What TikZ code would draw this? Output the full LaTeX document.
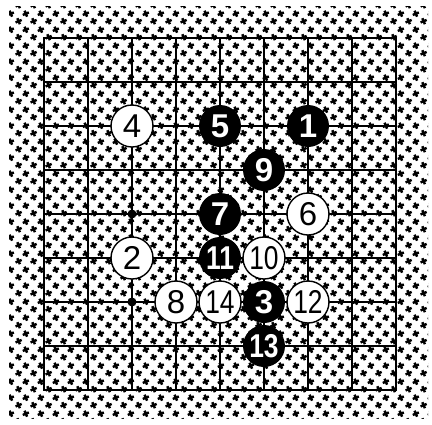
\documentclass[tikz,border=0pt]{standalone}
\usepackage{fontspec}
\usetikzlibrary{patterns}
\newfontfamily\stonefont{Liberation Sans}
\newfontfamily\stonefontc[FakeStretch=0.8]{Liberation Sans}
\pgfdeclarepatternformonly{gostars}{\pgfqpoint{0pt}{0pt}}{\pgfqpoint{14.67pt}{15.5pt}}{\pgfqpoint{14.67pt}{15.5pt}}{%
  \pgfsetlinewidth{2.5pt}%
  \pgfpathmoveto{\pgfqpoint{0.6pt}{2.6pt}}\pgfpathlineto{\pgfqpoint{6.8pt}{5.2pt}}%
  \pgfpathmoveto{\pgfqpoint{5.0pt}{0.8pt}}\pgfpathlineto{\pgfqpoint{2.4pt}{7.0pt}}%
  \pgfpathmoveto{\pgfqpoint{7.93pt}{10.35pt}}\pgfpathlineto{\pgfqpoint{14.13pt}{12.95pt}}%
  \pgfpathmoveto{\pgfqpoint{12.33pt}{8.55pt}}\pgfpathlineto{\pgfqpoint{9.73pt}{14.75pt}}%
  \pgfusepath{stroke}%
}
\tikzset{
  gridline/.style={line width=1.7pt, line cap=rect},
  stonebase/.style={circle, minimum size=42pt, inner sep=0pt},
  bstone/.style={stonebase, fill=black, text=white, font=\stonefont\bfseries\fontsize{33}{33}\selectfont},
  wstone/.style={stonebase, fill=white, draw=black, line width=1.4pt, text=black, font=\stonefont\fontsize{33}{33}\selectfont},
  narrow/.style={font=\stonefontc\fontsize{33}{33}\selectfont},
  bnarrow/.style={font=\stonefontc\bfseries\fontsize{33}{33}\selectfont},
  hoshi/.style={circle, fill=black, minimum size=9pt, inner sep=0pt},
}
\begin{document}
\begin{tikzpicture}[x=1pt, y=-1pt]
\useasboundingbox (0,0) rectangle (432,424);
\fill[white] (0,0) rectangle (432,424);
\fill[pattern=gostars] (9,6) rectangle (428,418);
% grid
\foreach \i in {0,...,8} {
  \draw[gridline] ({44+44*\i},38) -- ({44+44*\i},390);
  \draw[gridline] (44,{38+44*\i}) -- (396,{38+44*\i});
}
\node[hoshi] (h1) at (132,214) {};
\node[hoshi] (h2) at (132,302) {};
% stones
\node[bstone] (s1) at (308,126) {1};
\node[wstone] (s2) at (132,258) {2};
\node[bstone] (s3) at (264,302) {3};
\node[wstone] (s4) at (132,126) {4};
\node[bstone] (s5) at (220,126) {5};
\node[wstone] (s6) at (308,214) {6};
\node[bstone] (s7) at (220,214) {7};
\node[wstone] (s8) at (176,302) {8};
\node[bstone] (s9) at (264,170) {9};
\node[wstone, narrow] (s10) at (264,258) {10};
\node[bstone, bnarrow] (s11) at (220,258) {11};
\node[wstone, narrow] (s12) at (308,302) {12};
\node[bstone, bnarrow] (s13) at (264,346) {13};
\node[wstone, narrow] (s14) at (220,302) {14};
\end{tikzpicture}
\end{document}
